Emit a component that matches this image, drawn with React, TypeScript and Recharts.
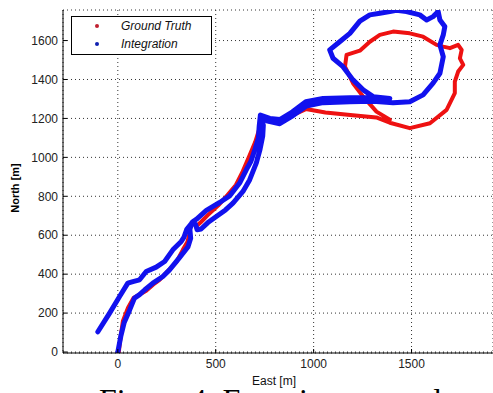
import { LineChart, Line, XAxis, YAxis, CartesianGrid } from 'recharts'

// axis ticks
const eastTicks = [0, 500, 1000, 1500]
const northTicks = [0, 200, 400, 600, 800, 1000, 1200, 1400, 1600]

// Ground Truth trajectory (east / north, metres)
const truthEast = [
  5, 12, 26, 52, 80, 102, 145, 180, 213, 258, 298, 332, 355, 366, 370, 385, 405, 425, 458,
  512, 560, 603, 638, 672, 702, 724, 736, 770, 830, 890, 960, 1060, 1200, 1320, 1389, 1491,
  1594, 1679, 1721, 1721, 1738, 1764, 1747, 1756, 1738, 1696, 1662, 1628, 1559, 1491, 1406,
  1338, 1287, 1236, 1168, 1160, 1201, 1253, 1321, 1389,
]
const truthNorth = [
  0, 60, 160, 228, 278, 290, 315, 346, 371, 418, 460, 525, 565, 605, 640, 662, 650, 668, 702,
  752, 806, 858, 928, 1008, 1080, 1150, 1198, 1186, 1180, 1215, 1248, 1230, 1216, 1205, 1178,
  1150, 1175, 1244, 1330, 1389, 1441, 1475, 1509, 1552, 1578, 1561, 1569, 1578, 1620, 1637,
  1646, 1629, 1594, 1548, 1526, 1466, 1381, 1312, 1235, 1193,
]

// Integration trajectory (east / north, metres)
const integEast = [
  0, 15, 32, 60, 85, 111, 138, 179, 230, 264, 315, 358, 372, 368, 378, 397, 405, 425, 460,
  503, 550, 588, 639, 673, 707, 726, 740, 743, 735, 765, 827, 895, 963, 1048, 1185, 1304,
  1406, 1491, 1559, 1610, 1645, 1662, 1645, 1662, 1670, 1645, 1636, 1610, 1577, 1542, 1474,
  1423, 1389, 1338, 1287, 1236, 1185, 1133, 1082, 1099, 1150, 1201, 1253, 1304, 1389, 1300,
  1185, 1048, 960, 892, 827, 776, 728, 722, 718, 700, 680, 656, 622, 571, 520, 452, 401, 384,
  352, 338, 324, 281, 239, 196, 145, 111, 77, 51, 9, -42, -102,
]
const integNorth = [
  0, 80, 150, 215, 277, 295, 320, 354, 388, 422, 485, 540, 585, 630, 665, 655, 628, 632, 665,
  696, 730, 765, 825, 884, 970, 1040, 1110, 1165, 1205, 1186, 1173, 1215, 1264, 1281, 1286,
  1288, 1281, 1286, 1321, 1381, 1432, 1517, 1578, 1629, 1672, 1706, 1749, 1723, 1706, 1732,
  1749, 1755, 1749, 1740, 1732, 1700, 1637, 1594, 1552, 1509, 1466, 1398, 1347, 1312, 1302,
  1308, 1306, 1302, 1286, 1234, 1194, 1200, 1217, 1160, 1100, 1040, 980, 936, 868, 802, 768,
  728, 682, 670, 630, 590, 568, 525, 465, 436, 414, 371, 362, 354, 285, 200, 104,
]

const toPoints = (xs: number[], ys: number[]) => xs.map((x, i) => ({ x, y: ys[i] }))

const series = [
  { name: 'Ground Truth', color: '#ee1111', marker: '#c02030', width: 4, data: toPoints(truthEast, truthNorth) },
  { name: 'Integration', color: '#1111ee', marker: '#1020b0', width: 5, data: toPoints(integEast, integNorth) },
]

const sans = '"Liberation Sans", Arial, sans-serif'

export default function App() {
  return (
    <div
      style={{
        position: 'fixed',
        left: 0,
        top: 0,
        width: 493,
        height: 393,
        overflow: 'hidden',
        background: '#fff',
        fontFamily: sans,
      }}
    >
      <LineChart width={493} height={393} margin={{ top: 10, right: 0, left: 8, bottom: 10 }}>
        <CartesianGrid stroke="#333" strokeDasharray="1 3" strokeWidth={1} />
        <XAxis
          type="number"
          dataKey="x"
          domain={[-280, 1916]}
          ticks={eastTicks}
          allowDataOverflow
          height={30}
          tickSize={-4}
          tickMargin={10}
          axisLine={{ stroke: '#000' }}
          tickLine={{ stroke: '#000' }}
          tick={{ fontSize: 12, fill: '#222', fontFamily: sans }}
        />
        <XAxis
          xAxisId="top"
          orientation="top"
          type="number"
          domain={[-280, 1916]}
          height={0}
          tick={false}
          axisLine={{ stroke: '#000' }}
        />
        <YAxis
          type="number"
          dataKey="y"
          domain={[-5, 1757]}
          ticks={northTicks}
          allowDataOverflow
          width={55}
          tickSize={-4}
          tickMargin={9}
          axisLine={{ stroke: '#000' }}
          tickLine={{ stroke: '#000' }}
          tick={{ fontSize: 12, fill: '#222', fontFamily: sans }}
        />
        {series.map((s) => (
          <Line
            key={s.name}
            name={s.name}
            data={s.data}
            dataKey="y"
            type="linear"
            stroke={s.color}
            strokeWidth={s.width}
            strokeLinejoin="round"
            strokeLinecap="round"
            dot={false}
            activeDot={false}
            isAnimationActive={false}
          />
        ))}
      </LineChart>

      {/* legend box */}
      <div
        style={{
          position: 'absolute',
          left: 71,
          top: 16,
          width: 141,
          height: 39,
          boxSizing: 'border-box',
          border: '1px solid #000',
          background: '#fff',
        }}
      >
        {series.map((s, i) => (
          <div key={s.name}>
            <div
              style={{
                position: 'absolute',
                left: 23,
                top: 7 + i * 18,
                width: 4,
                height: 4,
                borderRadius: 2,
                background: s.marker,
              }}
            />
            <div
              style={{
                position: 'absolute',
                left: 49,
                top: 2 + i * 18,
                fontSize: 12,
                lineHeight: '14px',
                fontStyle: 'italic',
                color: '#111',
                whiteSpace: 'nowrap',
              }}
            >
              {s.name}
            </div>
          </div>
        ))}
      </div>

      {/* axis titles */}
      <div
        style={{
          position: 'absolute',
          left: 15,
          top: 188,
          transform: 'translate(-50%, -50%) rotate(-90deg)',
          fontSize: 11,
          fontWeight: 'bold',
          lineHeight: '13px',
          whiteSpace: 'nowrap',
          color: '#000',
        }}
      >
        North [m]
      </div>
      <div
        style={{
          position: 'absolute',
          left: 274,
          top: 374,
          transform: 'translateX(-50%)',
          fontSize: 12,
          lineHeight: '14px',
          whiteSpace: 'nowrap',
          color: '#111',
        }}
      >
        East [m]
      </div>

      {/* caption, cut off by the page edge */}
      <div
        style={{
          position: 'absolute',
          left: 99,
          top: 388,
          fontFamily: '"Liberation Serif", "Times New Roman", serif',
          fontSize: 32,
          lineHeight: '24px',
          whiteSpace: 'nowrap',
          color: '#000',
        }}
      >
        Figure 4. Experiment results
      </div>
    </div>
  )
}
